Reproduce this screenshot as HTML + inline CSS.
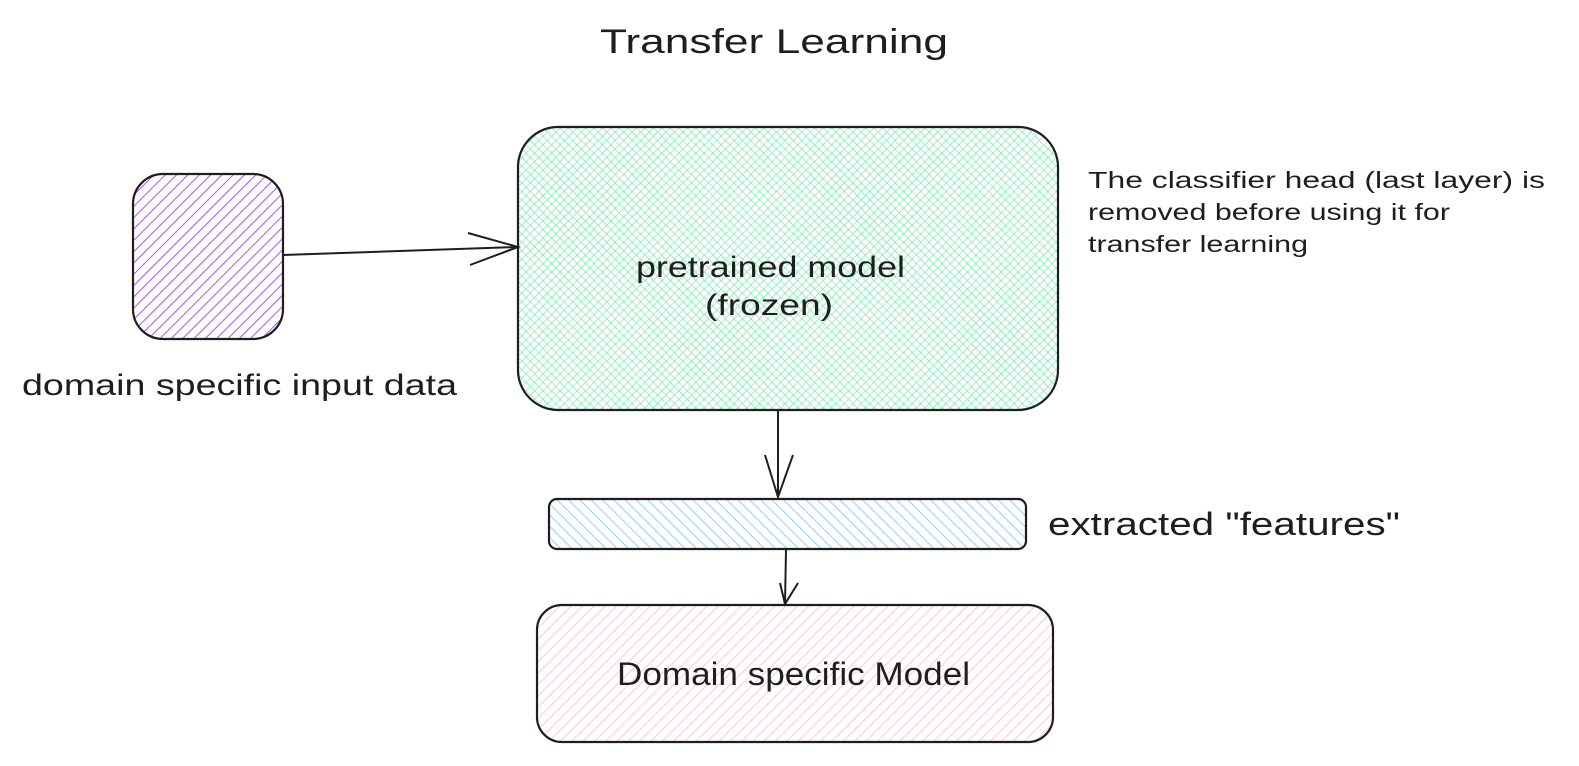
<!DOCTYPE html>
<html><head><style>
html,body{margin:0;padding:0;background:#fff;}
svg{display:block;}
text{font-family:"Liberation Sans",sans-serif;fill:#1e1e1e;}
</style></head><body>
<svg width="1579" height="766" viewBox="0 0 1579 766" xmlns="http://www.w3.org/2000/svg">
<defs>
<pattern id="pp" width="8" height="8" patternUnits="userSpaceOnUse" patternTransform="rotate(45)">
<line x1="0" y1="0" x2="0" y2="8" stroke="#a855f7" stroke-width="2"/></pattern>
<pattern id="gp" width="6" height="6" patternUnits="userSpaceOnUse" patternTransform="rotate(45)">
<line x1="0" y1="0" x2="0" y2="6" stroke="#6ee7a8" stroke-width="1.3"/>
<line x1="0" y1="0" x2="6" y2="0" stroke="#6ee7a8" stroke-width="1.3"/></pattern>
<pattern id="bp" width="8" height="8" patternUnits="userSpaceOnUse" patternTransform="rotate(-45)">
<line x1="0" y1="0" x2="0" y2="8" stroke="#91cfff" stroke-width="2"/></pattern>
<pattern id="rp" width="8" height="8" patternUnits="userSpaceOnUse" patternTransform="rotate(45)">
<line x1="0" y1="0" x2="0" y2="8" stroke="#ffbcbc" stroke-width="1.6"/></pattern>
</defs>
<text x="600" y="53" font-size="34" textLength="348" lengthAdjust="spacingAndGlyphs">Transfer Learning</text>
<rect x="133" y="174" width="150" height="165" rx="30" fill="url(#pp)" stroke="#1e1e1e" stroke-width="2.2"/>
<text x="22" y="395" font-size="30" textLength="435" lengthAdjust="spacingAndGlyphs">domain specific input data</text>
<rect x="518" y="127" width="540" height="283" rx="40" fill="url(#gp)" stroke="#1e1e1e" stroke-width="2.2"/>
<text x="636" y="277" font-size="30" textLength="269" lengthAdjust="spacingAndGlyphs">pretrained model</text>
<text x="705" y="315" font-size="30" textLength="128" lengthAdjust="spacingAndGlyphs">(frozen)</text>
<text x="1088" y="188" font-size="23" textLength="457" lengthAdjust="spacingAndGlyphs">The classifier head (last layer) is</text>
<text x="1088" y="220" font-size="23" textLength="362" lengthAdjust="spacingAndGlyphs">removed before using it for</text>
<text x="1088" y="252" font-size="23" textLength="220" lengthAdjust="spacingAndGlyphs">transfer learning</text>
<path d="M283 255 L518 247" stroke="#1e1e1e" stroke-width="2" fill="none"/>
<path d="M468 233 L518 247 L470 265" stroke="#1e1e1e" stroke-width="2" fill="none"/>
<path d="M778 410 L778 497" stroke="#1e1e1e" stroke-width="2" fill="none"/>
<path d="M765 455 L778 497 L793 455" stroke="#1e1e1e" stroke-width="2" fill="none"/>
<rect x="549" y="499" width="477" height="50" rx="8" fill="url(#bp)" stroke="#1e1e1e" stroke-width="2.2"/>
<text x="1048" y="535" font-size="32" textLength="352" lengthAdjust="spacingAndGlyphs">extracted "features"</text>
<path d="M786 550 L785 604" stroke="#1e1e1e" stroke-width="2" fill="none"/>
<path d="M780 583 L785 604 L798 583" stroke="#1e1e1e" stroke-width="2" fill="none"/>
<rect x="537" y="605" width="516" height="137" rx="25" fill="url(#rp)" stroke="#1e1e1e" stroke-width="2.2"/>
<text x="617" y="685" font-size="32" textLength="353" lengthAdjust="spacingAndGlyphs">Domain specific Model</text>
</svg>
</body></html>
